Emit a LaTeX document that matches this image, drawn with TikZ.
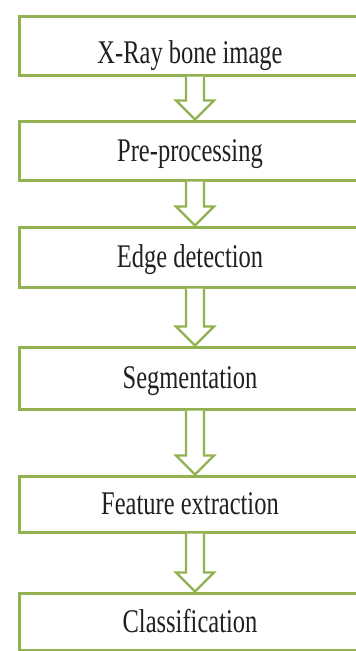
\documentclass[tikz,border=0pt]{standalone}
\usepackage{fontspec}
\setmainfont{Liberation Serif}
\usetikzlibrary{calc}

\definecolor{boxgreen}{RGB}{146,178,82}
\definecolor{textgray}{RGB}{32,32,32}

\newcommand{\tallText}[1]{\scalebox{1}[1.35]{#1}}
% hollow block arrow from the bottom of one box to the top of the next
\newcommand{\blockArrow}[2]{%
  \draw[arrowline] ($(#1.south)+(-4,0)$) -- ($(#2.north)+(-4,-19)$) -- ($(#2.north)+(-14,-19)$)
    -- ($(#2.north)+(5,0)$) -- ($(#2.north)+(24,-19)$) -- ($(#2.north)+(14,-19)$) -- ($(#1.south)+(14,0)$);}

\begin{document}
\begin{tikzpicture}[x=1pt,y=-1pt,
  stepbox/.style={draw=boxgreen,line width=3pt,fill=white,minimum width=341pt,inner sep=0pt,
    text height=21.9pt,text depth=0pt,text=textgray,font=\fontsize{24.5}{29}\selectfont},
  arrowline/.style={draw=boxgreen,line width=2.2pt,fill=white,line join=miter}]
\useasboundingbox (0,0) rectangle (356,651);
\clip (0,0) rectangle (356,651);
\fill[white] (0,0) rectangle (356,651);

% Stages
\node[stepbox,minimum height=59pt,text height=36pt] (xray) at (190,45.5) {\tallText{X-Ray bone image}};
\node[stepbox,minimum height=59pt] (prep) at (190,150.5) {\tallText{Pre-processing}};
\node[stepbox,minimum height=60pt] (edge) at (190,257) {\tallText{Edge detection}};
\node[stepbox,minimum height=62pt] (segm) at (190,378) {\tallText{Segmentation}};
\node[stepbox,minimum height=56pt] (feat) at (190,504) {\tallText{Feature extraction}};
\node[stepbox,minimum height=57pt] (clas) at (190,621.5) {\tallText{Classification}};

% Arrows between stages
\blockArrow{xray}{prep}
\blockArrow{prep}{edge}
\blockArrow{edge}{segm}
\blockArrow{segm}{feat}
\blockArrow{feat}{clas}

\end{tikzpicture}
\end{document}
